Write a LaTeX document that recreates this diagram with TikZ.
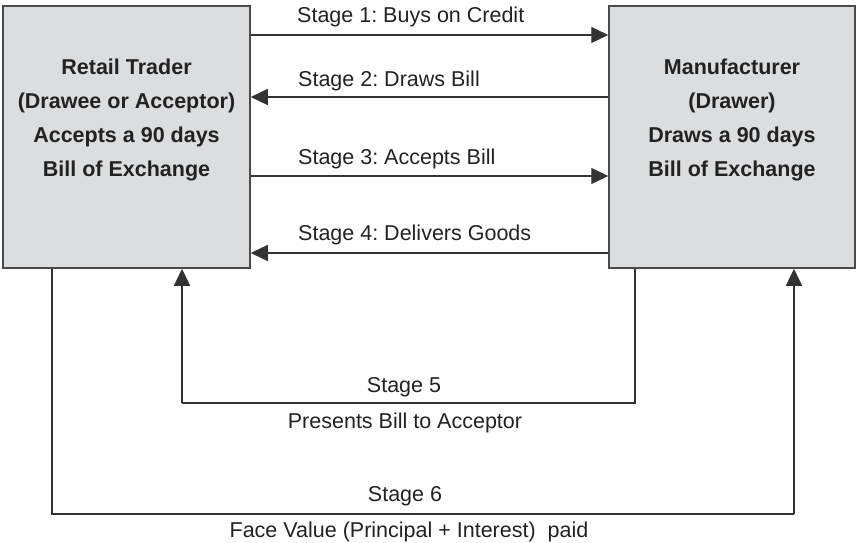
\documentclass[tikz,border=0pt]{standalone}
\usepackage{fontspec}
\setmainfont{Liberation Sans}
\frenchspacing
\usetikzlibrary{arrows.meta}
\definecolor{boxfill}{HTML}{DCDDDF}
\definecolor{boxline}{HTML}{4A4A4A}
\definecolor{ink}{HTML}{222222}
\definecolor{wire}{HTML}{333333}
\begin{document}
\begin{tikzpicture}[x=1pt,y=-1pt,
  party/.style={draw=boxline, line width=1.5pt, fill=boxfill, minimum height=262pt, inner sep=0pt},
  partytext/.style={text=ink, font=\fontsize{21.5}{34}\selectfont\bfseries, align=center, inner sep=0pt},
  flow/.style={draw=wire, line width=1.3pt, -{Triangle[length=17pt,width=16pt]}},
  plain/.style={draw=wire, line width=1.3pt},
  stagelabel/.style={text=ink, font=\fontsize{21.5}{26}\selectfont, inner sep=0pt}]
\useasboundingbox (0,0) rectangle (856,543);

% the two parties
\node[party, minimum width=247pt] (L) at (126.5,137) {};
\node[party, minimum width=246pt] (R) at (732,137) {};
\node[partytext] (Ltxt) at (126.5,119.5) {Retail Trader\\(Drawee or Acceptor)\\Accepts a 90 days\\Bill of Exchange};
\node[partytext] (Rtxt) at (732,119.5) {Manufacturer\\(Drawer)\\Draws a 90 days\\Bill of Exchange};

% stages 1-4 between the boxes
\coordinate (y1) at (0,35);
\coordinate (y2) at (0,97);
\coordinate (y3) at (0,176);
\coordinate (y4) at (0,253);
\draw[flow] (L.east |- y1) -- (R.west |- y1);
\draw[flow] (R.west |- y2) -- (L.east |- y2);
\draw[flow] (L.east |- y3) -- (R.west |- y3);
\draw[flow] (R.west |- y4) -- (L.east |- y4);
\node[stagelabel, anchor=base west] (t1) at (297,23) {Stage 1: Buys on Credit};
\node[stagelabel, anchor=base west] (t2) at (298,86) {Stage 2: Draws Bill};
\node[stagelabel, anchor=base west] (t3) at (298,164) {Stage 3: Accepts Bill};
\node[stagelabel, anchor=base west] (t4) at (298,240) {Stage 4: Delivers Goods};

% stage 5: bill presented back to the acceptor
\coordinate (s5r) at (635,403);
\coordinate (s5l) at (182,403);
\draw[plain] (R.south -| s5r) -- (s5r) -- (s5l);
\draw[flow] (s5l) -- (L.south -| s5l);
\node[stagelabel, anchor=base] (t5) at (404,392) {Stage 5};
\node[stagelabel, anchor=base] (t5b) at (405,428) {Presents Bill to Acceptor};

% stage 6: payment of face value
\coordinate (s6l) at (52,514);
\coordinate (s6r) at (794,514);
\draw[plain] (L.south -| s6l) -- (s6l) -- (s6r);
\draw[flow] (s6r) -- (R.south -| s6r);
\node[stagelabel, anchor=base] (t6) at (405,501) {Stage 6};
\node[stagelabel, anchor=base] (t6b) at (409,537) {Face Value (Principal + Interest)\ \ paid};
\end{tikzpicture}
\end{document}
